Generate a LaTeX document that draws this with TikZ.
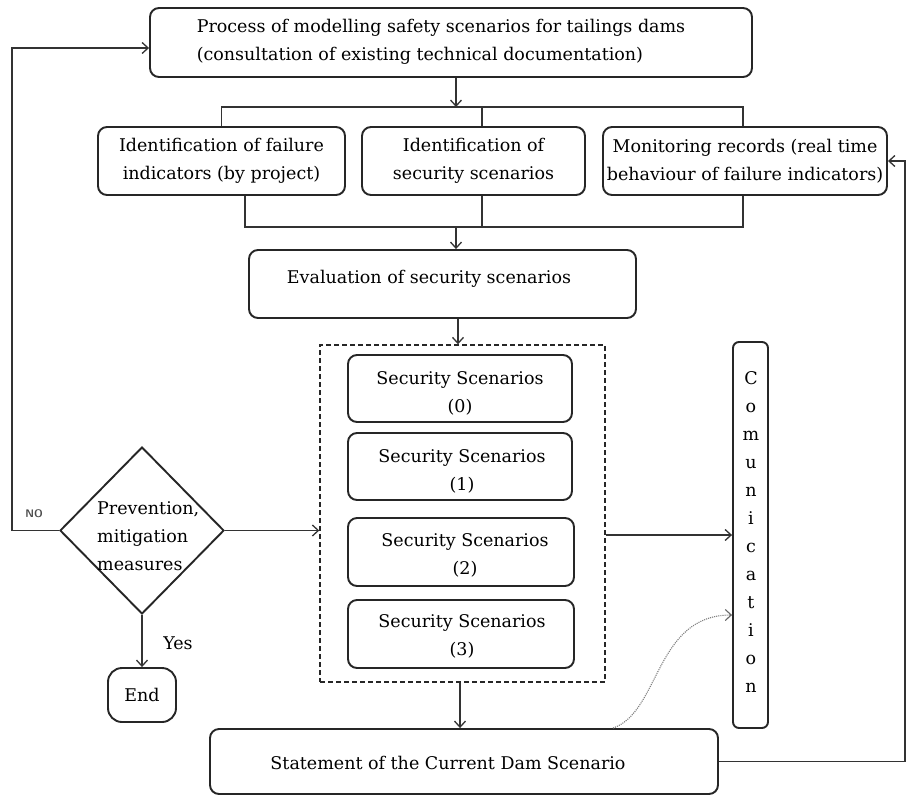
\documentclass[tikz,border=0pt]{standalone}
\usepackage{fontspec}
\setmainfont{DejaVu Serif}
\usetikzlibrary{arrows.meta,shapes.geometric,calc}
\begin{document}
\begin{tikzpicture}[x=1pt,y=-1pt,
  txt/.style={font=\fontsize{17.5}{28}\selectfont},
  box/.style={draw=black!85, line width=1.9pt, rounded corners=9pt, fill=white,
              inner sep=0pt, align=center, txt},
  grp/.style={draw=black!85, line width=1.4pt, dash pattern=on 5pt off 3pt, inner sep=0pt},
  link/.style={draw=black!80, line width=1.4pt},
  arr/.style={link, -{Straight Barb[length=6pt,width=11pt,line width=1.3pt]}},
  soft/.style={draw=black!50, line width=1.1pt, densely dotted,
               -{Straight Barb[length=6pt,width=11pt,line width=1.1pt,black!60]}},
  lbl/.style={txt, inner sep=0pt}
]
\useasboundingbox (0,0) rectangle (907,796);

% main chain of boxes
\node[box, minimum width=602pt, minimum height=69pt] (proc) at (451,42.5) {};
\node[lbl, align=left] (proctxt) at (441,42)
  {Process of modelling safety scenarios for tailings dams\\(consultation of existing technical documentation)};
\node[box, minimum width=247pt, minimum height=68pt] (fail) at (221.5,161)
  {Identification of failure\\indicators (by project)};
\node[box, minimum width=223pt, minimum height=68pt] (ident) at (473.5,161)
  {Identification of\\security scenarios};
\node[box, minimum width=284pt, minimum height=68pt] (monit) at (745,161)
  {Monitoring records (real time\\behaviour of failure indicators)};
\node[box, minimum width=387pt, minimum height=68pt] (eval) at (442.5,284) {};
\node[lbl] (evaltxt) at (429,279) {Evaluation of security scenarios};

% scenario group
\node[grp, minimum width=285pt, minimum height=337pt] (group) at (462.5,513.5) {};
\node[box, minimum width=224pt, minimum height=67pt] (ss0) at (460,388.5) {};
\node[box, minimum width=224pt, minimum height=67pt] (ss1) at (460,466.5) {};
\node[box, minimum width=226pt, minimum height=68pt] (ss2) at (461,552) {};
\node[box, minimum width=226pt, minimum height=68pt] (ss3) at (461,634) {};
\node[lbl, align=center] (ss0txt) at (460,393) {Security Scenarios\\(0)};
\node[lbl, align=center] (ss1txt) at (462,471) {Security Scenarios\\(1)};
\node[lbl, align=center] (ss2txt) at (465,555) {Security Scenarios\\(2)};
\node[lbl, align=center] (ss3txt) at (462,636) {Security Scenarios\\(3)};

% communication column
\node[box, rounded corners=6pt, minimum width=35pt, minimum height=386pt] (comm) at (750.5,535) {};
\node[lbl, align=center] (commtxt) at (751,532)
  {C\\o\\m\\u\\n\\i\\c\\a\\t\\i\\o\\n};

% current state
\node[box, minimum width=508pt, minimum height=65pt] (stmt) at (464,761.5) {};
\node[lbl] (stmttxt) at (448,763) {Statement of the Current Dam Scenario};

% decision and end
\node[draw=black!85, line width=1.9pt, diamond, minimum width=164pt, minimum height=167pt,
      inner sep=0pt, fill=white] (dia) at (142,530.5) {};
\node[lbl, align=left, anchor=west] (diatxt) at (97,536)
  {Prevention,\\mitigation\\measures};
\node[box, rounded corners=14pt, minimum width=68pt, minimum height=54pt] (end) at (142,695) {End};

% connector bends
\coordinate (topbar) at (456,107);
\coordinate (botbar) at (456,227);
\coordinate (noturn) at (12,530.5);
\coordinate (rside) at (905,0);

% top box fans out to the three inputs
\draw[arr] (topbar |- proc.south) -- (topbar);
\draw[link] (fail.north) |- ([xshift=-2pt]monit.north |- topbar) -- ([xshift=-2pt]monit.north);
\draw[link] ([xshift=8.5pt]ident.north |- topbar) -- ([xshift=8.5pt]ident.north);

% the three inputs join into the evaluation
\draw[link] ([xshift=23.5pt]fail.south) |- ([xshift=-2pt]monit.south |- botbar) -- ([xshift=-2pt]monit.south);
\draw[link] ([xshift=8.5pt]ident.south) -- ([xshift=8.5pt]ident.south |- botbar);
\draw[arr] (botbar) -- (botbar |- eval.north);

% evaluation to scenarios, scenarios onward
\draw[arr] ([xshift=-4.5pt]group.north |- eval.south) -- ([xshift=-4.5pt]group.north);
\draw[arr] ([xshift=-2.5pt]group.south) -- ([xshift=-2.5pt]group.south |- stmt.north);
\draw[arr] (group.east |- comm.west) -- (comm.west);
\draw[soft] ([xshift=404pt]stmt.north west) .. controls (660,712) and (655,615) .. ([yshift=-80pt]comm.west);

% feedback from current state to monitoring
\draw[arr] (stmt.east) -- (rside |- stmt.east) -- (rside |- monit.east) -- (monit.east);

% decision branches
\draw[arr] (dia.east) -- (dia.east -| group.west);
\draw[arr] (dia.south) -- (end.north);
\node[lbl] (yes) at (178,643) {Yes};
\draw[arr] (dia.west) -- (noturn) |- ([yshift=-5.5pt]proc.west);
\node[font=\sffamily\bfseries\fontsize{11}{12}\selectfont, text=black!70, inner sep=0pt] (no) at (34,514) {NO};
\end{tikzpicture}
\end{document}
